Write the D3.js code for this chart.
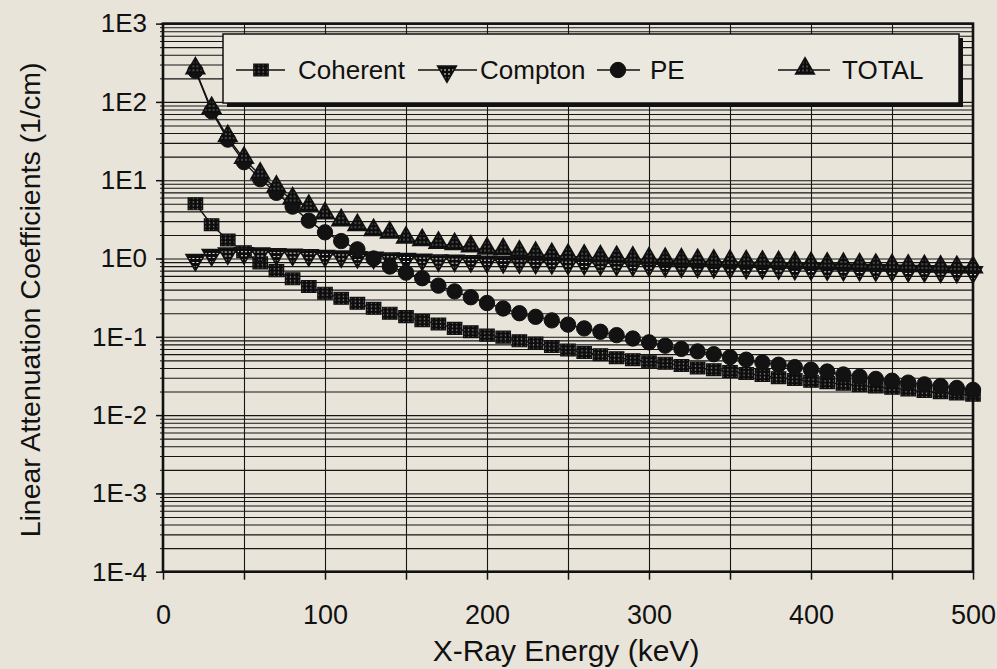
<!DOCTYPE html>
<html>
<head>
<meta charset="utf-8">
<script src="https://cdn.jsdelivr.net/npm/d3@7/dist/d3.min.js"></script>
<style>
  html, body { margin: 0; padding: 0; background: #e8e4da; }
  svg { display: block; }
  text { font-family: "Liberation Sans", Arial, sans-serif; fill: #111; }
</style>
</head>
<body>
<svg id="chart" width="997" height="669"></svg>
<script>
// ---------------- data ----------------
const energies = [20,30,40,50,60,70,80,90,100,110,120,130,140,150,160,170,180,190,200,
  210,220,230,240,250,260,270,280,290,300,310,320,330,340,350,360,370,380,390,400,
  410,420,430,440,450,460,470,480,490,500];

const coherent = [5.0,2.7,1.72,1.22,0.88,0.70,0.55,0.44,0.36,0.31,0.268,0.231,0.20,0.181,0.161,0.146,0.128,0.116,0.105,
  0.099,0.089,0.083,0.075,0.068,0.063,0.059,0.054,0.051,0.048,0.046,0.043,0.040,0.038,0.036,0.034,0.032,0.030,0.0285,0.027,
  0.026,0.0248,0.0238,0.0229,0.022,0.021,0.020,0.0193,0.0186,0.018];

const compton = [1.0,1.16,1.21,1.22,1.21,1.19,1.17,1.15,1.13,1.11,1.09,1.07,1.05,1.03,1.01,0.99,0.98,0.965,0.95,
  0.94,0.93,0.92,0.91,0.90,0.89,0.88,0.87,0.86,0.85,0.84,0.83,0.82,0.81,0.80,0.795,0.79,0.78,0.77,0.765,
  0.76,0.75,0.745,0.74,0.73,0.725,0.72,0.71,0.705,0.70];

const pe = [250,76,33,17,10.3,6.9,4.6,3.04,2.16,1.67,1.31,1.0,0.79,0.66,0.56,0.45,0.38,0.32,0.27,
  0.23,0.20,0.18,0.162,0.143,0.128,0.116,0.105,0.095,0.085,0.077,0.070,0.065,0.060,0.055,0.051,0.047,0.044,0.041,0.038,
  0.036,0.033,0.031,0.029,0.0275,0.026,0.0247,0.0235,0.0222,0.021];

const total = [257,80,35,18.5,11.6,7.9,5.6,4.5,3.6,2.95,2.55,2.2,2.05,1.77,1.64,1.52,1.46,1.37,1.28,
  1.25,1.17,1.13,1.09,1.06,1.04,1.02,1.0,0.98,0.96,0.945,0.93,0.915,0.90,0.89,0.88,0.87,0.86,0.85,0.835,
  0.825,0.815,0.805,0.795,0.785,0.775,0.765,0.755,0.745,0.74];

const seriesNames = ["Coherent", "Compton", "PE", "TOTAL"];
const xTicks = [0,100,200,300,400,500];
const yTicks = [1e-4,1e-3,1e-2,1e-1,1e0,1e1,1e2,1e3];
const yTickLabels = ["1E-4","1E-3","1E-2","1E-1","1E0","1E1","1E2","1E3"];
const xLabel = "X-Ray Energy (keV)";
const yLabel = "Linear Attenuation Coefficients (1/cm)";

// ---------------- layout ----------------
const svg = d3.select("#chart");
const L = 163, R = 973, T = 23.6, B = 571.7;
const x = d3.scaleLinear().domain([0, 500]).range([L, R]);
const y = d3.scaleLog().domain([1e-4, 1e3]).range([B, T]);

svg.append("rect").attr("width", 997).attr("height", 669).attr("fill", "#e8e4da");

// patterns
const defs = svg.append("defs");
const pat = defs.append("pattern").attr("id", "dark").attr("patternUnits", "userSpaceOnUse")
  .attr("width", 4).attr("height", 4);
pat.append("rect").attr("width", 4).attr("height", 4).attr("fill", "#0d0d0d");
pat.append("rect").attr("x", 1.5).attr("y", 1.5).attr("width", 1).attr("height", 1).attr("fill", "#f2f0ea");
const pat2 = defs.append("pattern").attr("id", "mid").attr("patternUnits", "userSpaceOnUse")
  .attr("width", 4).attr("height", 4);
pat2.append("rect").attr("width", 4).attr("height", 4).attr("fill", "#0d0d0d");
pat2.append("rect").attr("x", 1).attr("y", 1).attr("width", 2).attr("height", 1).attr("fill", "#f2f0ea");

// minor tick values for log grid
const minorVals = [];
for (let e = -4; e < 3; e++) for (let k = 1; k <= 9; k++) minorVals.push(k * Math.pow(10, e));
minorVals.push(1e3);

// horizontal gridlines
svg.append("g").attr("transform", `translate(${L},0)`)
  .call(d3.axisLeft(y).tickValues(minorVals).tickSize(-(R - L)).tickFormat(""))
  .call(g => g.select(".domain").remove())
  .call(g => g.selectAll("line").attr("stroke", "#151515").attr("stroke-width", 1.1));

// vertical gridlines
svg.append("g").attr("transform", `translate(0,${B})`)
  .call(d3.axisBottom(x).tickValues(d3.range(50, 500, 50)).tickSize(-(B - T)).tickFormat(""))
  .call(g => g.select(".domain").remove())
  .call(g => g.selectAll("line").attr("stroke", "#151515").attr("stroke-width", 1.1));

// y minor ticks outside
svg.append("g").attr("transform", `translate(${L},0)`)
  .call(d3.axisLeft(y).tickValues(minorVals).tickSize(3).tickFormat(""))
  .call(g => g.select(".domain").remove())
  .call(g => g.selectAll("line").attr("stroke", "#111").attr("stroke-width", 1));

// y major axis
svg.append("g").attr("transform", `translate(${L},0)`)
  .call(d3.axisLeft(y).tickValues(yTicks).tickSize(7).tickPadding(9)
    .tickFormat((d, i) => yTickLabels[i]))
  .call(g => g.select(".domain").remove())
  .call(g => g.selectAll("line").attr("stroke", "#111").attr("stroke-width", 1.5))
  .call(g => g.selectAll("text").attr("font-size", 26).attr("fill", "#111")
    .attr("font-family", "Liberation Sans, Arial, sans-serif"));

// x axis
svg.append("g").attr("transform", `translate(0,${B})`)
  .call(d3.axisBottom(x).tickValues(d3.range(0, 501, 50)).tickSize(8).tickFormat(""))
  .call(g => g.select(".domain").remove())
  .call(g => g.selectAll("line").attr("stroke", "#111").attr("stroke-width", 1.5));
svg.append("g").attr("transform", `translate(0,${B})`)
  .call(d3.axisBottom(x).tickValues(xTicks).tickSize(0).tickPadding(33))
  .call(g => g.select(".domain").remove())
  .call(g => g.selectAll("text").attr("font-size", 27).attr("fill", "#111")
    .attr("font-family", "Liberation Sans, Arial, sans-serif"));

// frame
svg.append("rect").attr("x", L).attr("y", T).attr("width", R - L).attr("height", B - T)
  .attr("fill", "none").attr("stroke", "#111").attr("stroke-width", 2.6);

// axis titles
svg.append("text").attr("x", 566).attr("y", 661).attr("text-anchor", "middle")
  .attr("font-size", 30).text(xLabel);
svg.append("text").attr("transform", `translate(40,300) rotate(-90)`)
  .attr("text-anchor", "middle").attr("font-size", 28.5).text(yLabel);

// ---------------- series ----------------
const allSeries = [coherent, compton, pe, total];
const line = d3.line().x((d, i) => x(energies[i])).y(d => y(d));

const sq = d3.symbol().type(d3.symbolSquare).size(175);
const tri = d3.symbol().type(d3.symbolTriangle).size(150);
const circ = d3.symbol().type(d3.symbolCircle).size(185);

function drawMarker(g, idx, cx, cy) {
  if (idx === 0) {
    g.append("path").attr("d", sq()).attr("transform", `translate(${cx},${cy}) scale(1.08,0.9)`)
      .attr("fill", "url(#dark)").attr("stroke", "#111").attr("stroke-width", 1.3);
  } else if (idx === 1) {
    g.append("path").attr("d", tri()).attr("transform", `translate(${cx},${cy + 1.5}) rotate(180)`)
      .attr("fill", "url(#mid)").attr("stroke", "#111").attr("stroke-width", 1.6);
  } else if (idx === 2) {
    g.append("path").attr("d", circ()).attr("transform", `translate(${cx},${cy})`)
      .attr("fill", "#121212").attr("stroke", "#111").attr("stroke-width", 1);
  } else {
    g.append("path").attr("d", tri()).attr("transform", `translate(${cx},${cy - 1.5})`)
      .attr("fill", "url(#dark)").attr("stroke", "#111").attr("stroke-width", 1.6);
  }
}

const plot = svg.append("g");
allSeries.forEach((s, si) => {
  const g = plot.append("g");
  g.append("path").datum(s).attr("d", line).attr("fill", "none")
    .attr("stroke", "#111").attr("stroke-width", 1.4);
  s.forEach((v, i) => drawMarker(g, si, x(energies[i]), y(v)));
});

// ---------------- legend ----------------
const lg = svg.append("g");
lg.append("rect").attr("x", 227).attr("y", 38).attr("width", 736).attr("height", 69).attr("fill", "#111");
lg.append("rect").attr("x", 223).attr("y", 34).attr("width", 736).attr("height", 69)
  .attr("fill", "#ebe8df").attr("stroke", "#111").attr("stroke-width", 1.5);
const legendItems = [
  { x0: 236, x1: 285, sym: 261, tx: 298 },
  { x0: 418, x1: 477, sym: 447, tx: 480 },
  { x0: 597, x1: 640, sym: 618, tx: 650 },
  { x0: 778, x1: 830, sym: 805, tx: 842 }
];
seriesNames.forEach((name, i) => {
  const it = legendItems[i];
  lg.append("line").attr("x1", it.x0).attr("x2", it.x1).attr("y1", 70).attr("y2", 70)
    .attr("stroke", "#111").attr("stroke-width", 1.5);
  drawMarker(lg, i, it.sym, 70);
  lg.append("text").attr("x", it.tx).attr("y", 78.5).attr("font-size", 26).text(name);
});
</script>
</body>
</html>
